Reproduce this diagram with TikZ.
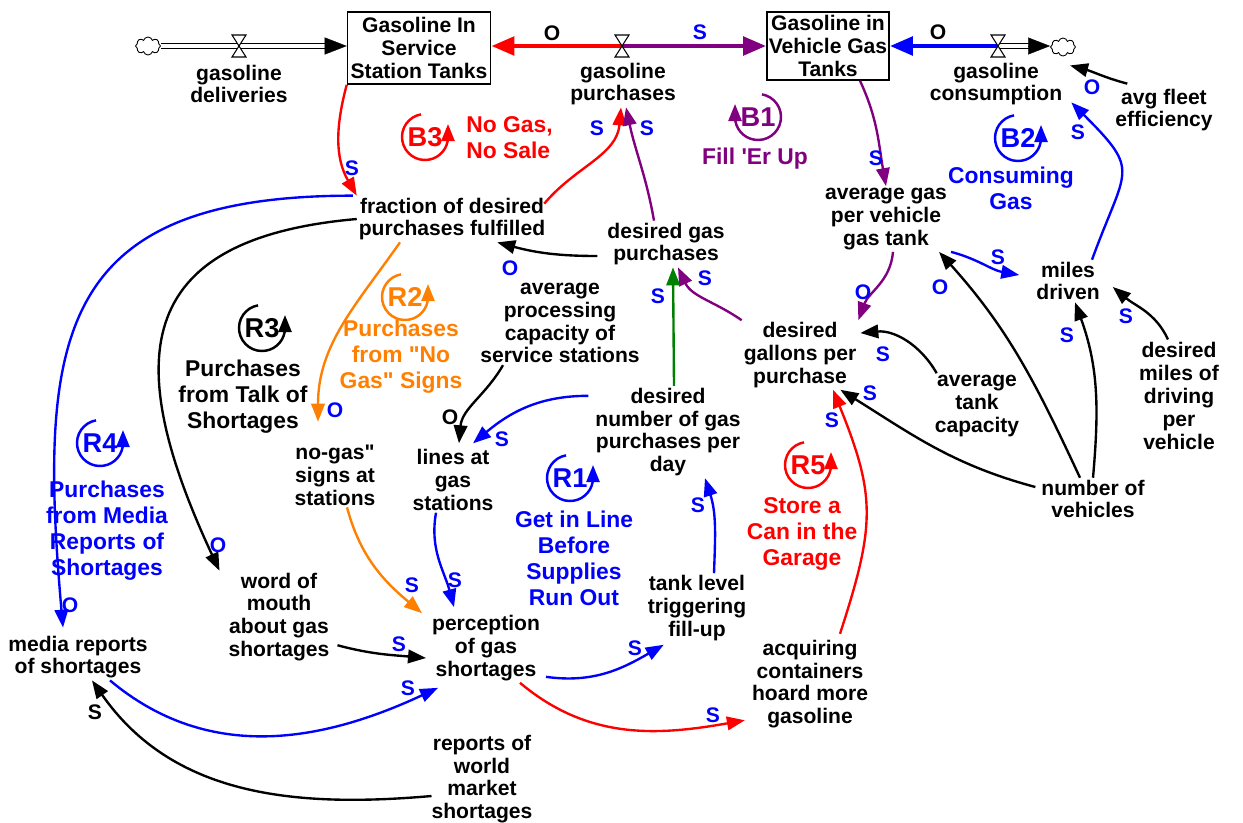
\documentclass[tikz,border=0pt]{standalone}
\usepackage{fontspec}
\setmainfont{Liberation Sans}
\usetikzlibrary{arrows.meta,positioning,calc,shapes.symbols}
\definecolor{vred}{RGB}{255,0,0}
\definecolor{vblue}{RGB}{0,0,255}
\definecolor{vpurple}{RGB}{128,0,128}
\definecolor{vorange}{RGB}{255,128,0}
\definecolor{vgreen}{RGB}{0,128,0}
\tikzset{
  var/.style={font={\fontsize{12}{13}\selectfont\bfseries}, align=center, inner sep=1pt},
  stock/.style={draw, line width=0.9pt, font={\fontsize{12}{13}\selectfont\bfseries},
                align=center, inner sep=1pt},
  lnk/.style={line width=1.35pt, -{Triangle[length=3.6mm, width=2.7mm]}},
  flw/.style={line width=2.8pt, -{Triangle[length=4.6mm, width=3.6mm]}},
  pipe/.style={double=white, double distance=2.2pt, line width=0.6pt},
  pipetip/.style={line width=0.2pt, -{Triangle[length=4.4mm, width=3.4mm]}},
  valve/.style={draw, fill=white, line width=0.6pt},
  src/.style={cloud, cloud puffs=8, draw, line width=0.5pt, minimum width=5mm,
              minimum height=3.6mm, inner sep=0pt},
  pol/.style={font={\fontsize{12}{13}\selectfont\bfseries}, inner sep=0pt},
  loopid/.style={font={\fontsize{15.5}{17}\selectfont\bfseries}, inner sep=0pt},
  loopname/.style={font={\fontsize{13}{14.8}\selectfont\bfseries}, align=center, inner sep=0pt},
  looparr/.style={line width=1.4pt, -{Triangle[length=3.4mm, width=2.6mm]}},
}

\begin{document}
\begin{tikzpicture}[x=0.02cm, y=-0.02cm]
  \useasboundingbox (0,0) rectangle (1243,822);
  \fill[white] (0,0) rectangle (1243,822);

  % stocks, clouds and valves
  \node[stock, minimum width=2.86cm, minimum height=1.44cm] (sst) at (419,48)
       {Gasoline In\\Service\\Station Tanks};
  \node[stock, minimum width=2.44cm, minimum height=1.36cm] (vgt) at (828,46)
       {Gasoline in\\Vehicle Gas\\Tanks};
  \node[src] (cloudL) at (148,46) {};
  \node[src] (cloudR) at (1063,47) {};
  \coordinate (vd) at (239,46);
  \coordinate (vp) at (622,46);
  \coordinate (vc) at (998,46);

  % flows
  \draw[pipe, shorten >=4mm] (cloudL.east) -- (cloudL.east -| sst.west);
  \draw[pipetip] ($(cloudL.east -| sst.west)+(-12,0)$) -- (cloudL.east -| sst.west);
  \draw[flw, vred] (vp) -- (vp -| sst.east);
  \draw[flw, vpurple] (vp) -- (vp -| vgt.west);
  \draw[flw, vblue] (vc) -- (vc -| vgt.east);
  \draw[pipe, shorten >=4mm] (vc) -- (vc -| cloudR.west);
  \draw[pipetip] ($(vc -| cloudR.west)+(-12,0)$) -- (vc -| cloudR.west);
  \foreach \v in {vd,vp,vc}
    \draw[valve] ($(\v)+(-7,-11)$) -- ($(\v)+(7,-11)$) -- ($(\v)+(-7,11)$)
                 -- ($(\v)+(7,11)$) -- cycle;

  \node[var] (gd) at (239,84) {gasoline\\deliveries};
  \node[var] (gp) at (623,84) {gasoline\\purchases};
  \node[var] (gc) at (996,84) {gasoline\\consumption};

  % auxiliaries
  \node[var] (afe)  at (1164,110) {avg fleet\\efficiency};
  \node[var] (frac) at (452,219) {fraction of desired\\purchases fulfilled};
  \node[var] (dgp)  at (666,244) {desired gas\\purchases};
  \node[var] (agv)  at (886,219) {average gas\\per vehicle\\gas tank};
  \node[var] (md)   at (1068,281) {miles\\driven};
  \node[var] (dgpp) at (800,355) {desired\\gallons per\\purchase};
  \node[var] (atc)  at (977,406) {average\\tank\\capacity};
  \node[var] (dmd)  at (1179,396) {desired\\miles of\\driving\\per\\vehicle};
  \node[var] (nv)   at (1093,499) {number of\\vehicles};
  \node[var] (apc)  at (560,323) {average\\processing\\capacity of\\service stations};
  \node[var] (dnp)  at (668,432) {desired\\number of gas\\purchases per\\day};
  \node[var] (lgs)  at (453,480) {lines at\\gas\\stations};
  \node[var] (ngs)  at (335,475) {no-gas\textquotedbl\\signs at\\stations};
  \node[var] (wom)  at (279,617) {word of\\mouth\\about gas\\shortages};
  \node[var] (mrs)  at (78,657) {media reports\\of shortages};
  \node[var] (pgs)  at (486,648) {perception\\of gas\\shortages};
  \node[var] (tlt)  at (697,608) {tank level\\triggering\\fill-up};
  \node[var] (acq)  at (810,684) {acquiring\\containers\\hoard more\\gasoline};
  \node[var] (rwm)  at (482,779) {reports of\\world\\market\\shortages};

  % causal links
  \draw[lnk, vred] (sst.south west) to[out=-105, in=120] (frac.north west);
  \draw[lnk, vred] ($(frac.north east)+(-3,8)$) to[out=50, in=-95] ($(gp.south)+(-2,0)$);
  \draw[lnk, vpurple] ($(dgp.north)+(-12,0)$) to[out=100, in=-78] ($(gp.south)+(3,0)$);
  \draw[lnk, vpurple] ($(vgt.south)+(32,0)$) to[out=-65, in=100] (agv.north);
  \draw[lnk, vpurple] ($(agv.south)+(7,0)$) to[out=-95, in=70] (dgpp.north east);
  \draw[lnk, vpurple] (dgpp.north west) to[out=145, in=-65] ($(dgp.south)+(12,0)$);
  \draw[lnk, vgreen] ($(dnp.north)+(6,0)$) -- ($(dgp.south)+(7,0)$);
  \draw[lnk] ($(dgp.west)+(-8,12)$) to[out=180, in=-15] ($(frac.south east)+(-50,0)$);
  \draw[lnk, vblue] ($(agv.south east)+(2,0)$) to[out=-15, in=170] ($(md.west)+(-15,-6)$);
  \draw[lnk, vblue] ($(md.north)+(24,0)$) to[out=70, in=-45, looseness=1.6] ($(gc.south east)+(7,-5)$);
  \draw[lnk] ($(afe.north west)+(14,-3)$) to[out=165, in=-15] ($(cloudR.south)+(7,9)$);
  \draw[lnk] ($(apc.south)+(-57,0)$) to[out=-120, in=85] ($(lgs.north)+(6,-4)$);
  \draw[lnk, vblue] ($(dnp.north west)+(-5,10)$) to[out=180, in=40] ($(lgs.north)+(20,-4)$);
  \draw[lnk, vorange] ($(frac.south)+(-52,0)$) to[out=-125, in=90] ($(ngs.north)+(-17,-21)$);
  \draw[lnk] (frac.west) to[out=185, in=115, looseness=1.55] ($(wom.north west)+(-7,0)$);
  \draw[lnk, vblue] ($(frac.north west)+(-4,0)$) to[out=180, in=95, looseness=1.45] ($(mrs.north)+(-15,-6)$);
  \draw[lnk, vorange] ($(ngs.south)+(12,0)$) to[out=-75, in=140] ($(pgs.north west)+(-8,0)$);
  \draw[lnk, vblue] ($(lgs.south)+(-17,0)$) to[out=-100, in=105] ($(pgs.north)+(-32,-6)$);
  \draw[lnk] ($(wom.south east)+(6,-18)$) to[out=-15, in=175] ($(pgs.west)+(-4,10)$);
  \draw[lnk, vblue] ($(mrs.south)+(32,0)$) to[out=-40, in=205] ($(pgs.south west)+(8,5)$);
  \draw[lnk] ($(rwm.west)+(2,17)$) to[out=185, in=-55] ($(mrs.south)+(14,0)$);
  \draw[lnk, vblue] ($(pgs.south east)+(4,-6)$) to[out=-8, in=210] ($(tlt.south west)+(18,2)$);
  \draw[lnk, vblue] ($(tlt.north)+(17,0)$) to[out=88, in=-72] ($(dnp.south)+(37,0)$);
  \draw[lnk, vred] ($(pgs.south)+(34,0)$) to[out=-40, in=190] ($(acq.south west)+(-5,-10)$);
  \draw[lnk, vred] ($(acq.north)+(30,-4)$) to[out=72, in=-68, looseness=1.2] ($(dgpp.south)+(33,0)$);
  \draw[lnk] ($(atc.north west)+(4,0)$) to[out=120, in=5] ($(dgpp.east)+(2,-22)$);
  \draw[lnk] ($(nv.west)+(-4,-12)$) to[out=165, in=-32] ($(dgpp.south east)+(-18,0)$);
  \draw[lnk] ($(nv.north)+(-13,0)$) to[out=115, in=-48] ($(agv.south east)+(-10,0)$);
  \draw[lnk] (nv.north) to[out=85, in=-70] ($(md.south)+(7,0)$);
  \draw[lnk] ($(dmd.north)+(-11,-1)$) to[out=115, in=-40] ($(md.east)+(11,6)$);

  % polarity marks
  \foreach \px/\py/\pt/\pc [count=\i] in {
      352/168/S/vblue, 597/128/S/vblue, 647/128/S/vblue, 876/158/S/vblue,
      863/292/O/vblue, 705/278/S/vblue, 658/296/S/vblue, 510/268/O/vblue,
      998/257/S/vblue, 1078/132/S/vblue, 1092/87/O/vblue, 450/417/O/black,
      502/439/S/vblue, 335/410/O/vblue, 218/545/O/vblue, 70/605/O/vblue,
      412/585/S/vblue, 455/580/S/vblue, 399/644/S/vblue, 408/688/S/vblue,
      95/712/S/black, 635/648/S/vblue, 698/505/S/vblue, 713/715/S/vblue,
      832/420/S/vblue, 883/354/S/vblue, 870/393/S/vblue, 940/287/O/vblue,
      1067/335/S/vblue, 1126/316/S/vblue, 552/33/O/black, 700/32/S/vblue,
      938/32/O/black}
    \node[pol, text=\pc] (pol\i) at (\px,\py) {\pt};

  % loop markers
  \foreach \nm/\cx/\cy/\col/\sa/\ea in {B3/425/137/vred/100/360, B1/758/117/vpurple/80/-180,
      B2/1018/138/vblue/100/360, R2/405/297/vorange/100/360, R3/262/328/black/100/360,
      R4/100/443/vblue/100/360, R1/570/478/vblue/100/360, R5/808/465/vred/100/360}{
    \node[loopid, text=\col] (L\nm) at (\cx,\cy) {\nm};
    \draw[looparr, color=\col] ($(L\nm)+(\sa:4.6mm)$) arc[start angle=\sa, end angle=\ea, radius=4.6mm]
         -- ++(0,-13);
  }
  \node[loopname, text=vred, anchor=west, align=left] (NB3) at (466,138) {No Gas,\\No Sale};
  \node[loopname, text=vpurple] (NB1) at (755,159) {Fill \textquotesingle Er Up};
  \node[loopname, text=vblue] (NB2) at (1011,188) {Consuming\\Gas};
  \node[loopname, text=vorange] (NR2) at (401,357) {Purchases\\from \textquotedbl No\\Gas\textquotedbl\ Signs};
  \node[loopname] (NR3) at (243,397) {Purchases\\from Talk of\\Shortages};
  \node[loopname, text=vblue] (NR4) at (107,531) {Purchases\\from Media\\Reports of\\Shortages};
  \node[loopname, text=vblue] (NR1) at (574,558) {Get in Line\\Before\\Supplies\\Run Out};
  \node[loopname, text=vred] (NR5) at (802,534) {Store a\\Can in the\\Garage};
\end{tikzpicture}
\end{document}
